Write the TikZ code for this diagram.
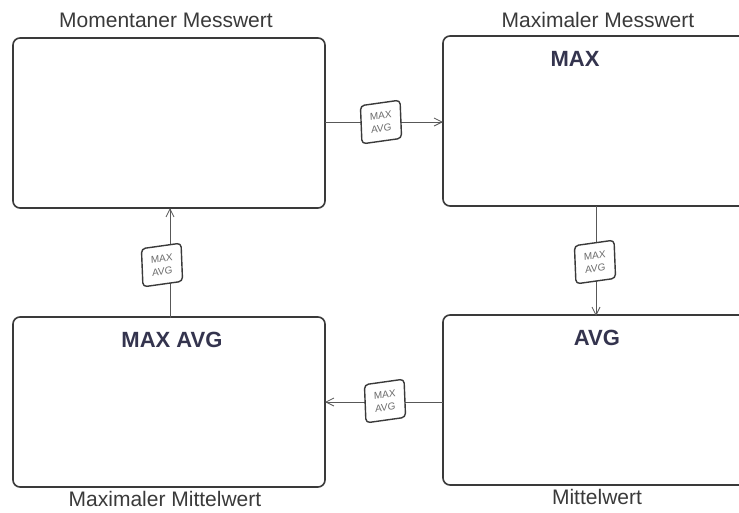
\documentclass[tikz,border=0pt]{standalone}
\usepackage{fontspec}
\setmainfont{Liberation Sans}
\usetikzlibrary{arrows.meta}
\definecolor{ink}{HTML}{3A3A3A}
\tikzset{
  screen/.style={draw=ink, line width=1.6pt, rounded corners=7pt, minimum width=312pt, minimum height=170pt, inner sep=0pt},
  title/.style={font=\fontsize{21}{21}\selectfont, text=ink},
  disp/.style={font=\bfseries\fontsize{22}{22}\selectfont, text=ink!90!blue},
  keybox/.style={draw=ink, line width=1.4pt, fill=white, rounded corners=4pt, minimum width=40pt, minimum height=38pt, inner sep=0pt, align=center, font=\fontsize{10}{13}\selectfont, text=ink!75, rotate=8, xslant=0.1},
  conn/.style={draw=ink!85, line width=0.8pt, -{Straight Barb[length=8pt,width=8pt]}}
}
\begin{document}
\begin{tikzpicture}[x=1pt,y=-1pt]
\useasboundingbox (0,0) rectangle (739,512);
\clip (0,0) rectangle (739,512);
\fill[white] (0,0) rectangle (739,512);
% screens
\node[screen] (s1) at (169,123) {};
\node[screen] (s2) at (599,121) {};
\node[screen] (s3) at (169,402) {};
\node[screen] (s4) at (599,400) {};
% titles
\node[title] (t1) at (166,20) {Momentaner Messwert};
\node[title] (t2) at (598,20) {Maximaler Messwert};
\node[title] (t3) at (165,499) {Maximaler Mittelwert};
\node[title] (t4) at (597,497) {Mittelwert};
% display texts
\node[disp] (d2) at (575,59) {MAX};
\node[disp] (d3) at (172,340) {MAX AVG};
\node[disp] (d4) at (597,338) {AVG};
% connectors
\coordinate (a1) at (325,122);
\coordinate (a2) at (443,122);
\draw[conn] (a1) -- (a2);
\coordinate (b1) at (596,206);
\coordinate (b2) at (596,316);
\draw[conn] (b1) -- (b2);
\coordinate (c1) at (443,402);
\coordinate (c2) at (325,402);
\draw[conn] (c1) -- (c2);
\coordinate (e1) at (170,318);
\coordinate (e2) at (170,208);
\draw[conn] (e1) -- (e2);
% key labels
\node[keybox] (k1) at (381,122) {MAX\\AVG};
\node[keybox] (k2) at (595,262) {MAX\\AVG};
\node[keybox] (k3) at (385,401) {MAX\\AVG};
\node[keybox] (k4) at (162,265) {MAX\\AVG};
\end{tikzpicture}
\end{document}
